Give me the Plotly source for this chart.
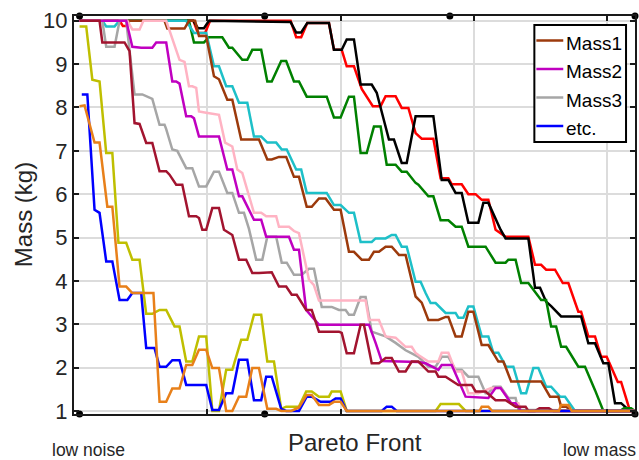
import plotly.graph_objects as go

# Position along the Pareto front (0 = low noise end, 100 = low mass end) and mass in kg.
red_x = [0, 7.2, 7.8, 8.4, 9.0, 20.5, 21.3, 22.6, 23.5, 38.0, 39.0, 39.9, 41.0, 44.9, 45.8, 47.2, 48.1, 49.4,
         50.8, 52.8, 54.2, 55.1, 56.9, 58.0, 59.2, 60.5, 61.6, 63.7, 65.0, 66.4, 67.0, 68.8, 70.0, 71.3, 72.4,
         73.6, 74.9, 76.7, 80.8, 82.0, 83.1, 84.0, 85.6, 87.0, 88.0, 89.8, 90.3, 91.6, 92.8, 93.9, 94.9, 96.9,
         97.5, 99.1, 100]
red_y = [10, 10, 9.88, 9.88, 10, 10, 9.72, 9.72, 10, 10, 9.62, 9.62, 9.95, 9.95, 9.33, 9.33, 8.95, 8.95,
         8.43, 8.03, 8.03, 8.26, 8.26, 7.99, 7.99, 7.41, 7.28, 7.28, 6.37, 6.37, 6.23, 6.23, 6.0, 6.0, 5.87,
         5.87, 5.18, 5.02, 5.02, 4.37, 4.37, 4.26, 4.26, 3.95, 3.95, 3.29, 3.29, 2.72, 2.72, 2.25, 2.25, 1.67,
         1.67, 1.0, 1.0]

black_x = [0, 20.5, 21.3, 22.4, 23.3, 38.0, 39.0, 39.9, 41.0, 44.9, 45.8, 47.2, 48.1, 49.4, 50.6, 52.6, 53.5,
           55.7, 56.6, 58.0, 58.9, 60.5, 63.7, 65.2, 66.4, 67.7, 68.8, 70.0, 71.8, 72.7, 73.6, 75.8, 76.7, 80.8,
           82.0, 82.9, 84.0, 84.9, 86.7, 90.3, 91.6, 92.8, 94.3, 95.2, 96.4, 97.5, 98.7, 100]
black_y = [10, 10, 9.83, 9.83, 10, 9.97, 9.73, 9.73, 9.95, 9.95, 9.33, 9.33, 9.57, 9.57, 8.53, 8.53, 8.34,
           7.26, 7.26, 6.72, 6.72, 7.8, 7.8, 6.33, 6.33, 6.03, 6.03, 5.34, 5.34, 5.8, 5.8, 5.18, 4.98, 4.98,
           3.84, 3.84, 3.52, 3.42, 3.18, 3.18, 2.56, 2.56, 2.1, 2.1, 1.18, 1.18, 1.04, 1.0]

green_x = [0, 19.7, 20.6, 22.4, 23.3, 25.7, 26.9, 27.5, 29.3, 30.2, 31.1, 32.7, 33.8, 34.6, 36.3, 37.2, 38.6,
           39.5, 40.9, 44.5, 45.8, 47.0, 48.5, 49.4, 50.6, 51.7, 53.0, 54.2, 55.3, 56.9, 58.0, 58.9, 60.5, 61.0,
           62.8, 63.7, 65.0, 66.4, 67.7, 68.8, 70.0, 73.1, 74.9, 76.7, 77.2, 78.5, 79.5, 80.8, 83.1, 84.0, 84.9,
           85.8, 86.7, 87.6, 89.8, 91.0, 92.8, 94.3, 97.3, 98.0, 99.3, 100]
green_y = [10, 10, 9.5, 9.5, 9.62, 9.62, 9.38, 9.38, 9.1, 9.1, 9.33, 9.33, 8.6, 8.6, 9.07, 9.07, 8.6, 8.6,
           8.25, 8.25, 7.77, 7.77, 8.25, 8.25, 6.95, 6.95, 7.56, 7.56, 6.68, 6.68, 6.52, 6.52, 6.26, 6.22, 5.95,
           5.95, 5.4, 5.4, 5.25, 5.25, 4.79, 4.79, 4.42, 4.42, 4.49, 4.49, 3.95, 3.95, 3.56, 3.56, 2.95, 2.95,
           2.48, 2.48, 2.02, 2.02, 1.48, 1.0, 1.0, 1.06, 1.06, 1.0]

cyan_x = [0, 4.1, 4.8, 6.3, 7.2, 19.2, 20.6, 22.8, 24.2, 25.1, 26.4, 27.5, 28.7, 30.2, 31.4, 32.7, 33.8, 35.4,
          36.4, 37.3, 39.0, 39.9, 40.9, 44.5, 45.8, 47.0, 48.5, 49.4, 50.6, 52.6, 53.3, 55.1, 56.2, 56.9, 58.0,
          58.9, 60.5, 61.4, 62.3, 63.2, 64.1, 65.9, 67.7, 68.2, 69.1, 70.0, 70.9, 72.4, 73.6, 74.5, 75.4, 76.8,
          78.1, 79.5, 80.4, 81.7, 82.6, 84.0, 84.9, 86.5, 87.4, 89.2, 100]
cyan_y = [10, 10, 9.87, 9.87, 10, 10, 9.72, 9.72, 8.95, 8.95, 8.49, 8.49, 8.11, 8.11, 7.33, 7.33, 7.19, 7.19,
          7.03, 7.03, 6.57, 6.57, 6.03, 6.03, 5.75, 5.75, 5.57, 5.57, 4.9, 4.9, 4.98, 4.98, 5.06, 5.06, 4.79,
          4.79, 3.98, 3.98, 3.72, 3.49, 3.49, 3.26, 3.26, 3.15, 3.15, 3.41, 3.41, 2.72, 2.72, 2.34, 2.34, 2.02,
          2.02, 1.41, 1.41, 1.99, 1.99, 1.56, 1.56, 1.33, 1.33, 1.0, 1.0]

mass1_x = [0, 15.3, 15.8, 18.9, 19.7, 20.8, 21.5, 22.8, 24.2, 25.1, 26.6, 27.5, 29.1, 32.3, 33.8, 34.6, 35.9,
           37.2, 38.6, 39.5, 40.9, 41.8, 43.1, 44.3, 45.8, 47.0, 48.5, 49.4, 50.8, 52.1, 53.0, 53.9, 55.1, 56.2,
           57.5, 58.7, 60.5, 61.6, 62.8, 64.6, 65.9, 66.4, 67.7, 68.8, 70.0, 70.9, 72.4, 73.6, 75.4, 76.3, 77.7,
           83.1, 84.7, 86.2, 86.7, 87.6, 88.5, 100]
mass1_y = [10, 10, 9.82, 9.82, 10, 10, 9.65, 9.65, 8.72, 8.65, 8.18, 8.18, 7.26, 7.26, 6.8, 6.8, 6.86, 6.86,
           6.4, 6.4, 5.71, 5.71, 5.9, 5.9, 5.64, 5.64, 4.67, 4.67, 4.49, 4.49, 4.67, 4.67, 4.79, 4.79, 4.6, 4.6,
           3.64, 3.5, 3.1, 3.1, 3.17, 3.17, 2.72, 2.72, 3.29, 3.29, 2.52, 2.52, 2.14, 2.14, 1.68, 1.68, 1.33,
           1.33, 1.1, 1.1, 1.0, 1.0]

pink_x = [0, 8.6, 9.5, 10.8, 11.5, 15.6, 18.0, 18.9, 19.7, 20.3, 21.0, 21.5, 22.8, 25.1, 26.2, 27.5, 28.4, 29.3,
          31.4, 32.7, 33.6, 35.4, 35.9, 37.7, 38.6, 39.5, 41.3, 42.2, 43.1, 51.5, 52.1, 53.9, 55.1, 56.9, 58.7,
          59.8, 60.5, 61.0, 62.8, 64.6, 65.2, 66.4, 67.7, 68.8, 70.0, 71.8, 74.1, 75.8, 77.7, 79.0, 79.5, 100]
pink_y = [10, 10, 9.8, 9.8, 10, 10, 9.1, 9.05, 8.49, 8.49, 8.45, 7.91, 7.88, 7.83, 7.19, 7.1, 6.57, 6.49,
          5.57, 5.57, 5.49, 5.49, 5.25, 5.25, 5.15, 5.1, 4.03, 3.9, 3.55, 3.55, 3.1, 3.1, 2.72, 2.69, 2.48,
          2.48, 2.34, 2.29, 2.14, 2.14, 2.34, 2.34, 1.91, 1.91, 1.41, 1.41, 1.53, 1.53, 1.18, 1.18, 1.0, 1.0]

mass2_x = [0, 8.4, 9.5, 11.1, 13.1, 13.8, 15.6, 16.7, 17.4, 18.0, 19.2, 20.1, 20.6, 21.5, 25.1, 26.6, 27.5,
           28.7, 29.3, 31.4, 32.7, 33.6, 37.7, 38.6, 39.5, 40.8, 43.1, 52.1, 53.3, 54.4, 61.0, 62.3, 64.6, 65.2,
           67.0, 69.5, 73.6, 74.9, 75.8, 77.7, 78.5, 79.5, 100]
mass2_y = [10, 10, 9.4, 9.38, 9.38, 9.5, 9.5, 8.6, 8.6, 8.55, 7.8, 7.8, 7.75, 7.33, 7.33, 6.57, 6.57, 5.95,
           5.95, 5.41, 5.41, 5.02, 5.02, 4.72, 4.72, 3.33, 2.99, 2.99, 2.57, 2.15, 2.13, 2.1, 1.95, 2.06, 2.06,
           1.33, 1.3, 1.53, 1.53, 1.18, 1.18, 1.0, 1.0]

mass3_x = [0, 4.1, 4.8, 6.3, 7.2, 8.4, 9.9, 11.3, 13.1, 14.4, 15.3, 15.6, 16.7, 17.6, 19.2, 20.3, 21.5, 22.8,
           24.2, 25.1, 26.6, 27.5, 28.7, 29.6, 30.5, 31.8, 32.9, 33.8, 35.4, 36.4, 37.3, 38.6, 40.0, 41.3, 42.2,
           43.6, 45.4, 46.7, 47.9, 48.5, 49.4, 50.6, 51.5, 52.6, 54.4, 55.1, 56.9, 58.7, 59.8, 61.0, 62.8, 64.1,
           65.2, 66.4, 67.7, 68.8, 70.0, 71.8, 73.1, 73.6, 74.5, 75.8, 77.2, 78.5, 79.0, 100]
mass3_y = [10, 10, 9.4, 9.4, 10, 10, 8.3, 8.3, 8.2, 7.6, 7.6, 7.5, 7.03, 7.0, 6.6, 6.6, 6.18, 6.18, 6.52,
           6.52, 6.03, 6.03, 5.57, 5.57, 5.2, 4.49, 4.49, 5.02, 5.02, 4.42, 4.42, 4.14, 4.14, 4.28, 4.28, 3.4,
           3.4, 3.33, 3.33, 3.22, 3.22, 3.63, 3.63, 2.83, 2.75, 2.72, 2.57, 2.4, 2.33, 2.25, 2.02, 2.02, 2.25,
           2.25, 1.95, 1.95, 1.79, 1.79, 1.41, 1.41, 1.56, 1.56, 1.3, 1.3, 1.03, 1.0]

crimson_x = [0, 3.6, 4.1, 8.1, 9.0, 9.9, 10.8, 12.0, 13.1, 14.4, 15.6, 16.2, 17.4, 18.5, 19.7, 21.0, 21.5,
             22.1, 22.8, 23.9, 25.1, 26.0, 27.5, 28.7, 30.0, 31.1, 32.3, 33.6, 34.6, 35.9, 37.2, 38.2, 39.1,
             40.8, 41.8, 43.1, 46.7, 47.2, 48.1, 49.4, 50.6, 51.2, 52.6, 53.9, 55.1, 56.2, 57.5, 58.7, 59.8,
             61.0, 62.8, 64.1, 64.6, 65.9, 68.2, 70.6, 71.3, 73.1, 74.9, 76.7, 78.5, 80.3, 80.8, 82.0, 82.8,
             84.5, 85.3, 100]
crimson_y = [10, 10, 9.5, 9.5, 9.3, 7.64, 7.62, 7.18, 7.18, 6.53, 6.53, 6.45, 6.22, 6.22, 5.49, 5.49, 5.45,
             5.18, 5.18, 5.68, 5.68, 5.18, 5.06, 4.49, 4.49, 4.18, 4.18, 4.2, 4.2, 3.87, 3.87, 3.68, 3.68,
             3.33, 3.33, 2.83, 2.83, 2.8, 2.33, 2.33, 2.99, 2.99, 2.1, 2.1, 2.22, 2.22, 1.91, 1.91, 2.14,
             2.14, 1.91, 1.91, 1.79, 1.79, 1.6, 1.6, 1.45, 1.45, 1.25, 1.25, 1.1, 1.1, 1.0, 1.0, 1.06,
             1.06, 1.0, 1.0]

yellow_x = [0, 1.2, 2.3, 3.6, 4.8, 5.9, 7.0, 8.4, 9.5, 10.8, 12.0, 13.1, 14.4, 15.6, 17.1, 18.0, 19.2, 20.3,
            21.5, 22.8, 23.9, 25.1, 26.4, 27.5, 29.1, 30.2, 31.4, 32.7, 33.8, 35.0, 36.3, 37.2, 39.5, 40.8,
            41.8, 43.1, 44.9, 45.4, 47.0, 48.1, 64.1, 65.0, 68.3, 69.5, 100]
yellow_y = [9.87, 9.87, 8.64, 8.6, 6.95, 6.95, 4.88, 4.88, 4.49, 4.49, 3.24, 3.24, 3.33, 3.33, 2.95, 2.95,
            2.14, 2.14, 2.72, 2.72, 1.0, 1.0, 1.95, 1.95, 2.64, 2.64, 3.22, 3.22, 2.14, 2.14, 1.05, 1.1, 1.1,
            1.45, 1.45, 1.33, 1.33, 1.45, 1.45, 1.0, 1.0, 1.16, 1.16, 1.0, 1.0]

etc_x = [0.4, 1.4, 2.7, 3.6, 4.8, 5.9, 7.2, 8.6, 9.5, 11.1, 12.0, 13.5, 14.4, 15.6, 16.7, 18.0, 19.2, 22.8,
         23.9, 25.1, 26.4, 27.5, 28.7, 30.2, 31.4, 32.7, 33.6, 34.6, 36.3, 37.2, 39.5, 40.9, 41.8, 43.4, 45.2,
         46.1, 47.0, 48.1, 54.4, 55.3, 56.2, 57.1, 100]
etc_y = [8.3, 8.3, 5.64, 5.57, 4.45, 4.45, 3.56, 3.56, 3.72, 3.72, 2.45, 2.45, 2.02, 2.02, 2.17, 2.17, 1.6,
         1.6, 1.02, 1.02, 1.41, 1.41, 2.18, 2.18, 1.25, 1.25, 1.79, 1.79, 1.05, 1.0, 1.0, 1.33, 1.33, 1.21,
         1.21, 1.29, 1.29, 1.0, 1.0, 1.1, 1.1, 1.0, 1.0]

orange_x = [0, 0.9, 2.7, 3.6, 5.0, 5.9, 7.2, 8.4, 9.5, 13.3, 14.4, 15.6, 16.7, 18.0, 19.2, 20.3, 21.5, 22.8,
            23.9, 25.1, 26.4, 27.5, 28.7, 30.0, 31.1, 32.3, 33.8, 35.4, 36.3, 38.1, 39.5, 40.9, 41.8, 43.1,
            44.9, 45.8, 47.0, 48.1, 72.0, 72.4, 73.6, 74.3, 86.3, 86.7, 88.0, 88.6, 100]
orange_y = [8.03, 8.05, 7.19, 7.19, 5.71, 5.71, 3.87, 3.87, 3.72, 3.72, 1.21, 1.21, 1.52, 1.52, 2.06, 2.06,
            2.41, 2.41, 1.99, 1.99, 1.0, 1.0, 1.33, 1.33, 1.99, 1.99, 1.05, 1.05, 1.0, 1.0, 1.08, 1.37, 1.37,
            1.14, 1.14, 1.21, 1.21, 1.0, 1.0, 1.1, 1.1, 1.0, 1.0, 1.14, 1.14, 1.0, 1.0]

# Marked points along the front, drawn on the top and bottom edges of the box
front_marks = [0, 100 / 3, 200 / 3, 100]

y_ticks = [1, 2, 3, 4, 5, 6, 7, 8, 9, 10]
x_grid = [23, 47, 71, 95]
x_range = [-1, 100]
y_range = [0.93, 10.11]

series = [
    # (x, y, colour, legend name)
    (red_x, red_y, "#ff0000", None),
    (black_x, black_y, "#000000", None),
    (green_x, green_y, "#008000", None),
    (cyan_x, cyan_y, "#1ec0c8", None),
    (mass1_x, mass1_y, "#9c3a0c", "Mass1"),
    (mass3_x, mass3_y, "#a6a6a6", "Mass3"),
    (pink_x, pink_y, "#ffb3c3", None),
    (mass2_x, mass2_y, "#c000c0", "Mass2"),
    (crimson_x, crimson_y, "#a2142f", None),
    (yellow_x, yellow_y, "#bfbf00", None),
    (etc_x, etc_y, "#0000ff", "etc."),
    (orange_x, orange_y, "#e8801a", None),
]
legend_order = ["Mass1", "Mass2", "Mass3", "etc."]

fig = go.Figure()
for xs, ys, col, name in series:
    fig.add_trace(go.Scatter(
        x=xs, y=ys, mode="lines",
        line=dict(color=col, width=2.5),
        name=name or "", showlegend=False, hoverinfo="skip",
    ))

for edge in (y_range[1], y_range[0]):
    fig.add_trace(go.Scatter(
        x=front_marks, y=[edge] * len(front_marks), mode="markers",
        marker=dict(color="#000000", size=7),
        showlegend=False, cliponaxis=False, hoverinfo="skip",
    ))

axis_col = "#1a1a1a"
text_col = "#262626"
base_font = "Liberation Sans, Arial, sans-serif"

# Plot box in pixels (used to place the legend box and the free texts)
box_l, box_r, box_t, box_b = 74, 637, 16, 414
W, H = box_r - box_l, box_b - box_t


def px(xp):
    return (xp - box_l) / W


def py(yp):
    return (box_b - yp) / H


# Legend drawn as a framed box with line samples
shapes = [dict(type="rect", xref="paper", yref="paper",
               x0=px(536), x1=px(628), y0=py(142), y1=py(25),
               line=dict(color="#000000", width=2), fillcolor="white", layer="above")]
annotations = []
colour_of = {name: col for _, _, col, name in series if name}
for i, name in enumerate(legend_order):
    yc = 40.5 + 28.5 * i
    shapes.append(dict(type="line", xref="paper", yref="paper",
                       x0=px(538), x1=px(565), y0=py(yc), y1=py(yc),
                       line=dict(color=colour_of[name], width=2.5), layer="above"))
    annotations.append(dict(text=name, xref="paper", yref="paper", x=px(566), y=py(yc + 2.5),
                            xanchor="left", yanchor="middle", showarrow=False,
                            font=dict(family=base_font, size=19, color="#000000")))

annotations += [
    dict(text="Mass (kg)", xref="paper", yref="paper", x=px(23), y=0.5,
         xanchor="center", yanchor="middle", textangle=-90, showarrow=False,
         font=dict(family=base_font, size=24, color=text_col)),
    dict(text="Pareto Front", xref="paper", yref="paper", x=0.5, y=py(442),
         xanchor="center", yanchor="middle", showarrow=False,
         font=dict(family=base_font, size=24, color=text_col)),
    dict(text="low noise", xref="paper", yref="paper", x=px(89), y=py(450),
         xanchor="center", yanchor="middle", showarrow=False,
         font=dict(family=base_font, size=17.5, color=text_col)),
    dict(text="low mass", xref="paper", yref="paper", x=px(601), y=py(450),
         xanchor="center", yanchor="middle", showarrow=False,
         font=dict(family=base_font, size=17.5, color=text_col)),
]

fig.update_layout(
    width=639, height=460,
    margin=dict(l=box_l, r=639 - box_r, t=box_t, b=460 - box_b),
    paper_bgcolor="white", plot_bgcolor="white",
    font=dict(family=base_font, color=text_col),
    showlegend=False,
    xaxis=dict(
        range=x_range, tickvals=x_grid, showticklabels=False,
        ticks="inside", ticklen=5, tickwidth=1.5, tickcolor=axis_col,
        showline=True, linecolor=axis_col, linewidth=2, mirror="ticks",
        showgrid=True, gridcolor="#dcdcdc", gridwidth=1.5, zeroline=False,
    ),
    yaxis=dict(
        range=y_range, tickvals=y_ticks,
        ticks="inside", ticklen=5, tickwidth=1.5, tickcolor=axis_col,
        tickfont=dict(size=22, color=text_col),
        showline=True, linecolor=axis_col, linewidth=2, mirror="ticks",
        showgrid=True, gridcolor="#dcdcdc", gridwidth=1.5, zeroline=False,
    ),
    shapes=shapes,
    annotations=annotations,
)

fig.write_html("out.html")
